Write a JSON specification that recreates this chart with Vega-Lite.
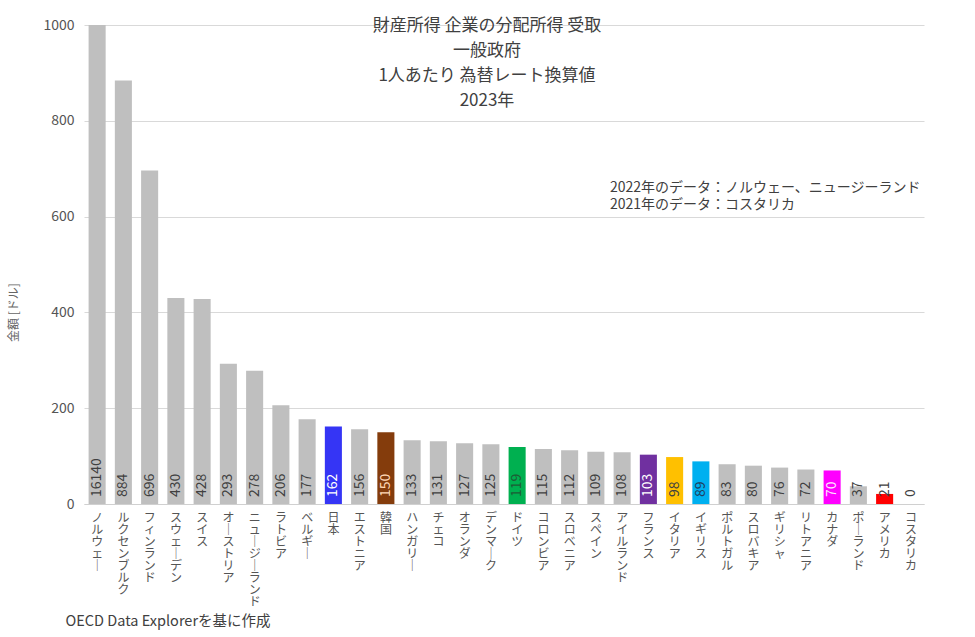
{
  "$schema": "https://vega.github.io/schema/vega-lite/v6.json",
  "autosize": "none",
  "width": 840,
  "height": 479,
  "padding": {"left": 84, "top": 25, "right": 51, "bottom": 133},
  "background": "white",
  "config": {
    "font": "Noto Sans CJK JP",
    "view": {"stroke": null},
    "title": {"font": "Noto Sans CJK JP"}
  },
  "title": {
    "text": ["財産所得 企業の分配所得 受取", "一般政府", "1人あたり 為替レート換算値", "2023年"],
    "fontSize": 17,
    "fontWeight": "normal",
    "color": "#404040",
    "lineHeight": 25,
    "anchor": "middle",
    "dx": -17,
    "offset": -92
  },
  "data": {
    "values": [
      {"country": "ノルウェー", "value": 16140},
      {"country": "ルクセンブルク", "value": 884},
      {"country": "フィンランド", "value": 696},
      {"country": "スウェーデン", "value": 430},
      {"country": "スイス", "value": 428},
      {"country": "オーストリア", "value": 293},
      {"country": "ニュージーランド", "value": 278},
      {"country": "ラトビア", "value": 206},
      {"country": "ベルギー", "value": 177},
      {"country": "日本", "value": 162},
      {"country": "エストニア", "value": 156},
      {"country": "韓国", "value": 150},
      {"country": "ハンガリー", "value": 133},
      {"country": "チェコ", "value": 131},
      {"country": "オランダ", "value": 127},
      {"country": "デンマーク", "value": 125},
      {"country": "ドイツ", "value": 119},
      {"country": "コロンビア", "value": 115},
      {"country": "スロベニア", "value": 112},
      {"country": "スペイン", "value": 109},
      {"country": "アイルランド", "value": 108},
      {"country": "フランス", "value": 103},
      {"country": "イタリア", "value": 98},
      {"country": "イギリス", "value": 89},
      {"country": "ポルトガル", "value": 83},
      {"country": "スロバキア", "value": 80},
      {"country": "ギリシャ", "value": 76},
      {"country": "リトアニア", "value": 72},
      {"country": "カナダ", "value": 70},
      {"country": "ポーランド", "value": 37},
      {"country": "アメリカ", "value": 21},
      {"country": "コスタリカ", "value": 0}
    ]
  },
  "encoding": {
    "x": {
      "field": "country",
      "type": "nominal",
      "sort": null,
      "scale": {"paddingInner": 0.35, "paddingOuter": 0.175},
      "axis": {
        "title": "OECD Data Explorerを基に作成",
        "titleFont": "Noto Sans CJK JP",
        "titleFontSize": 14.5,
        "titleFontWeight": "normal",
        "titleColor": "#404040",
        "titleAngle": 0,
        "titleAlign": "left",
        "titleBaseline": "middle",
        "titleAnchor": "start",
        "titleX": -19,
        "titleY": 117,
        "labelAngle": 0,
        "labelAlign": "center",
        "labelBaseline": "top",
        "labelFontSize": 12,
        "labelLineHeight": 12,
        "labelColor": "#555555",
        "labelPadding": 8,
        "labelExpr": "split(replace(datum.label, regexp('ー', 'g'), '｜'), '')",
        "ticks": false,
        "domain": true,
        "domainColor": "#d0d0d0",
        "labelOverlap": false
      }
    }
  },
  "layer": [
    {
      "mark": {"type": "bar", "clip": true},
      "encoding": {
        "y": {
          "field": "value",
          "type": "quantitative",
          "scale": {"domain": [0, 1000], "nice": false},
          "axis": {
            "title": "金額 [ドル]",
            "titleFont": "Noto Sans CJK JP",
            "titleFontSize": 12,
            "titleFontWeight": "normal",
            "titleColor": "#666666",
            "titleX": -64,
            "titleY": 287,
            "values": [0, 200, 400, 600, 800, 1000],
            "format": "d",
            "labelFontSize": 14,
            "labelColor": "#555555",
            "labelPadding": 10,
            "ticks": false,
            "domain": false,
            "gridColor": "#d9d9d9",
            "gridWidth": 1
          }
        },
        "color": {
          "condition": [
            {"test": "datum.country === '日本'", "value": "#3535F5"},
            {"test": "datum.country === '韓国'", "value": "#843C0C"},
            {"test": "datum.country === 'ドイツ'", "value": "#00B050"},
            {"test": "datum.country === 'フランス'", "value": "#7030A0"},
            {"test": "datum.country === 'イタリア'", "value": "#FFC000"},
            {"test": "datum.country === 'イギリス'", "value": "#00B0F0"},
            {"test": "datum.country === 'カナダ'", "value": "#FF00FF"},
            {"test": "datum.country === 'アメリカ'", "value": "#FF0000"}
          ],
          "value": "#BFBFBF"
        }
      }
    },
    {
      "mark": {"type": "text", "angle": 270, "align": "left", "baseline": "middle", "dx": 7, "fontSize": 14},
      "encoding": {
        "y": {"datum": 0, "type": "quantitative"},
        "text": {"field": "value", "type": "quantitative", "format": "d"},
        "color": {
          "condition": [
            {"test": "datum.country === '日本'", "value": "#FFFFFF"},
            {"test": "datum.country === '韓国'", "value": "#FFD9B8"},
            {"test": "datum.country === 'ドイツ'", "value": "#1D5E36"},
            {"test": "datum.country === 'フランス'", "value": "#FFFFFF"},
            {"test": "datum.country === 'イギリス'", "value": "#1F3F60"},
            {"test": "datum.country === 'カナダ'", "value": "#FFE6FF"}
          ],
          "value": "#404040"
        }
      }
    },
    {
      "data": {"values": [{"note": ["2022年のデータ：ノルウェー、ニュージーランド", "2021年のデータ：コスタリカ"]}]},
      "mark": {
        "type": "text",
        "align": "left",
        "baseline": "middle",
        "fontSize": 14,
        "lineHeight": 17,
        "color": "#404040",
        "dx": 14
      },
      "encoding": {
        "x": {"datum": "スペイン"},
        "y": {"datum": 660, "type": "quantitative"},
        "text": {"field": "note"}
      }
    }
  ]
}
